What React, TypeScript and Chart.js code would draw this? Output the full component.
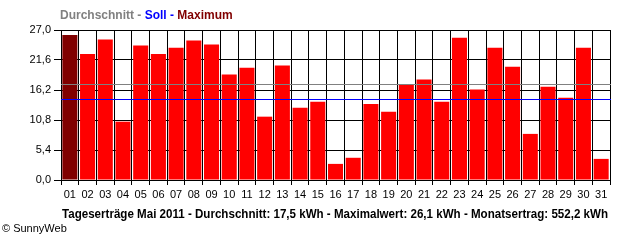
import React, { useEffect, useRef } from "react";
import { Chart, registerables } from "chart.js";

Chart.register(...registerables);

const days = ["01","02","03","04","05","06","07","08","09","10","11","12","13","14","15","16","17","18","19","20","21","22","23","24","25","26","27","28","29","30","31"];
const dailyYield = [26.1,22.7,25.3,10.5,24.2,22.7,23.8,25.1,24.4,19.0,20.2,11.4,20.6,13.0,14.1,2.9,4.0,13.7,12.3,17.2,18.1,14.1,25.6,16.3,23.8,20.4,8.3,16.8,14.8,23.8,3.8];
const avgLine = 17.2;
const sollLine = 14.5;
const yTicks = [0, 5.4, 10.8, 16.2, 21.6, 27.0];
const footerText = "Tageserträge Mai 2011 - Durchschnitt: 17,5 kWh - Maximalwert: 26,1 kWh - Monatsertrag: 552,2 kWh";
const titleParts = [
  { text: "Durchschnitt - ", color: "#808080" },
  { text: "Soll - ", color: "#0000ff" },
  { text: "Maximum", color: "#800000" },
];
const copyright = "© SunnyWeb";

const decor = {
  id: "decor",
  afterDatasetsDraw(chart: any) {
    const { ctx, chartArea, scales } = chart;
    const y = scales.y;
    const lines = [
      { v: avgLine, c: "#808080" },
      { v: sollLine, c: "#0000ff" },
    ];
    ctx.save();
    ctx.lineWidth = 1;
    for (const l of lines) {
      const py = Math.round(y.getPixelForValue(l.v)) + 0.5;
      ctx.strokeStyle = l.c;
      ctx.beginPath();
      ctx.moveTo(chartArea.left, py);
      ctx.lineTo(chartArea.right + 1, py);
      ctx.stroke();
    }
    ctx.restore();
  },
  afterDraw(chart: any) {
    const { ctx } = chart;
    ctx.save();
    ctx.textBaseline = "middle";
    ctx.textAlign = "left";
    ctx.font = "bold 12px 'Liberation Sans', Arial, sans-serif";
    let x = 60;
    for (const p of titleParts) {
      ctx.fillStyle = p.color;
      ctx.fillText(p.text, x, 16);
      x += ctx.measureText(p.text).width;
    }
    // footer
    ctx.fillStyle = "#000";
    ctx.font = "bold 12px 'Liberation Sans', Arial, sans-serif";
    const w = ctx.measureText(footerText).width;
    const target = 546;
    ctx.translate(62, 215);
    ctx.scale(target / w, 1);
    ctx.fillText(footerText, 0, 0);
    ctx.restore();
    ctx.save();
    ctx.fillStyle = "#000";
    ctx.textBaseline = "middle";
    ctx.font = "11px 'Liberation Sans', Arial, sans-serif";
    ctx.fillText(copyright, 2, 229);
    ctx.restore();
  },
};

export default function App() {
  const ref = useRef<HTMLCanvasElement | null>(null);
  useEffect(() => {
    document.body.style.margin = "0";
    const canvas = ref.current;
    if (!canvas) return;
    const maxV = Math.max(...dailyYield);
    const chart = new Chart(canvas, {
      type: "bar",
      data: {
        labels: days,
        datasets: [
          {
            data: dailyYield,
            backgroundColor: dailyYield.map((v) => (v === maxV ? "#800000" : "#ff0000")),
            borderWidth: 0,
            barPercentage: 0.85,
            categoryPercentage: 1,
          },
        ],
      },
      options: {
        animation: false,
        responsive: false,
        devicePixelRatio: 1,
        layout: { padding: { left: 0, right: 30, top: 30, bottom: 0 } },
        plugins: { legend: { display: false }, tooltip: { enabled: false }, title: { display: false } },
        scales: {
          x: {
            grid: { color: "#000", lineWidth: 1, offset: true, tickLength: 5, drawTicks: true },
            border: { color: "#000", width: 1 },
            ticks: {
              autoSkip: false,
              maxRotation: 0,
              minRotation: 0,
              color: "#000",
              padding: 3,
              font: { family: "'Liberation Sans Narrow', 'Liberation Sans', Arial, sans-serif", size: 11 },
            },
            afterFit(scale: any) {
              scale.height = 60;
            },
          },
          y: {
            min: 0,
            max: 27,
            grid: { color: "#000", lineWidth: 1, tickLength: 7, drawTicks: true },
            border: { color: "#000", width: 1 },
            ticks: {
              color: "#000",
              padding: 3,
              font: { family: "'Liberation Sans', Arial, sans-serif", size: 11 },
              callback: (v: any) => Number(v).toFixed(1).replace(".", ","),
            },
            afterBuildTicks(scale: any) {
              scale.ticks = yTicks.map((v) => ({ value: v }));
            },
            afterFit(scale: any) {
              scale.width = 61;
            },
          },
        },
      },
      plugins: [decor],
    } as any);
    return () => chart.destroy();
  }, []);
  return (
    <div style={{ width: 640, height: 240, background: "#fff" }}>
      <canvas ref={ref} width={640} height={240} style={{ display: "block" }} />
    </div>
  );
}
